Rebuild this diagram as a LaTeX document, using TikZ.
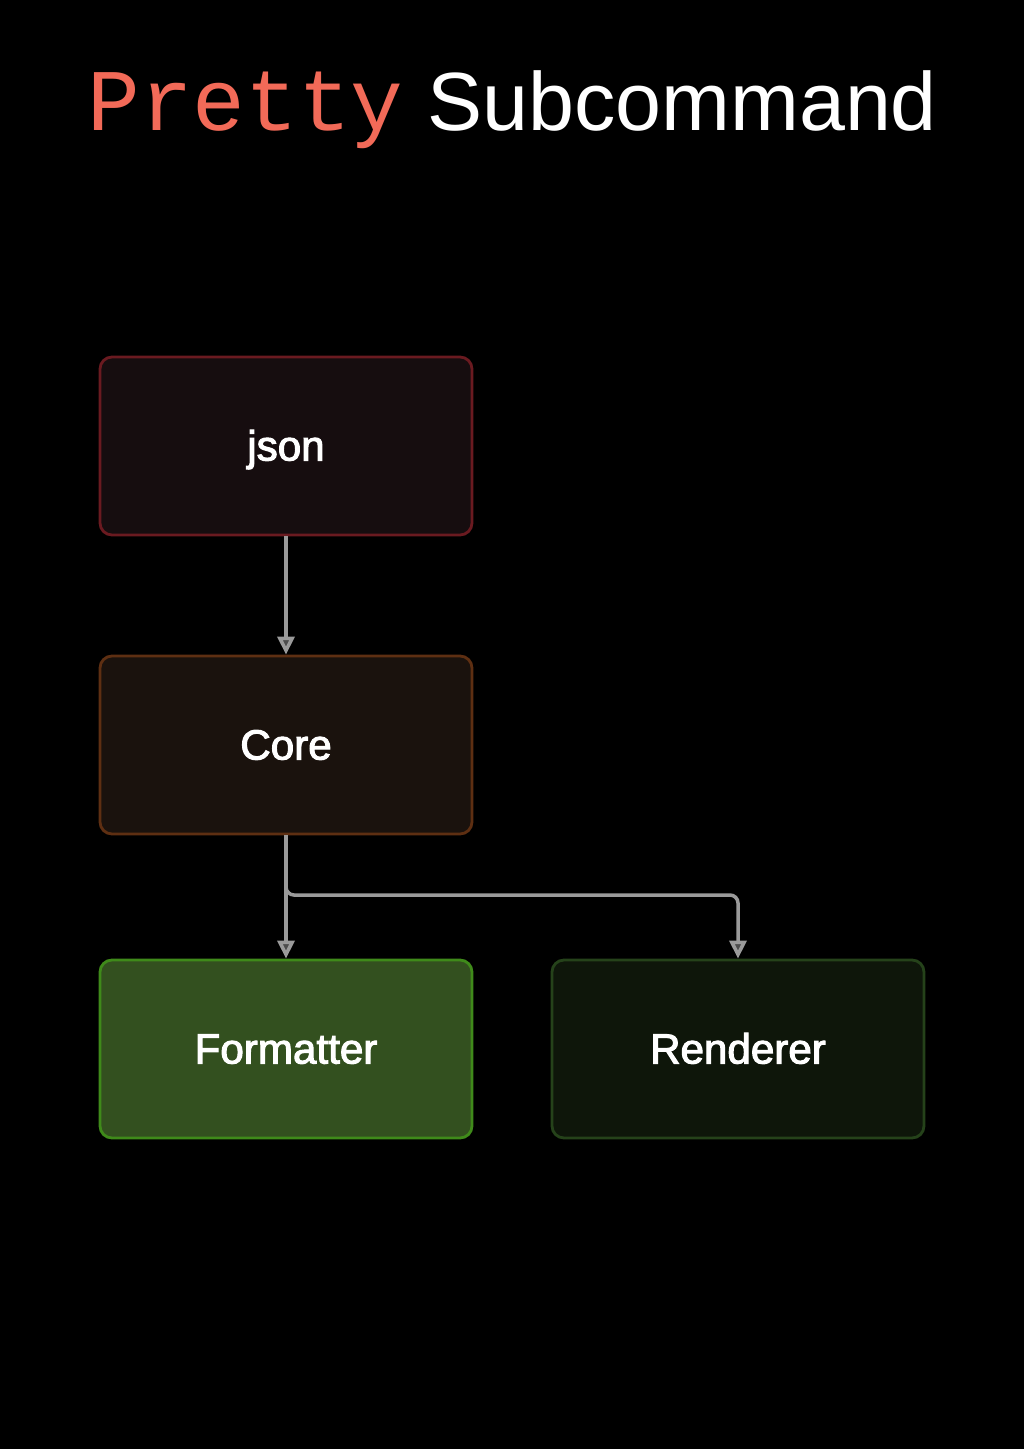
\documentclass[tikz,border=0pt]{standalone}
\usepackage{fontspec}
\setmainfont{Liberation Sans}
\setmonofont{Liberation Mono}
\newfontfamily\boxfont[FakeBold=2.5]{Liberation Sans}
\usetikzlibrary{arrows.meta}

\definecolor{titlered}{HTML}{F26A58}
\definecolor{edgegray}{HTML}{9A9A9A}
\definecolor{jsonfill}{HTML}{160D0F}
\definecolor{jsonline}{HTML}{6A1A20}
\definecolor{corefill}{HTML}{1A120D}
\definecolor{coreline}{HTML}{5E2F12}
\definecolor{fmtfill}{HTML}{33501F}
\definecolor{fmtline}{HTML}{3F8A1A}
\definecolor{rendfill}{HTML}{0E160A}
\definecolor{rendline}{HTML}{25421A}

\begin{document}
\begin{tikzpicture}[
        b/.style={rectangle, draw, rounded corners=0.24cm, line width=1.6pt, minimum width=7.44cm,
                  minimum height=3.56cm, align=center, text height=16.5pt, text depth=0pt,
                  font=\boxfont\fontsize{24}{28}\selectfont, text=white},
        e/.style={draw=edgegray, line width=2pt, rounded corners=0.16cm,
                  -{Triangle[length=0.36cm, width=0.34cm, fill=edgegray!50!black]}}
    ]
        \fill[black] (0,0) rectangle (20.48,-28.98);
        \useasboundingbox (0,0) rectangle (20.48,-28.98);

        \node[anchor=base west, inner sep=0, text=titlered, font=\ttfamily\fontsize{50}{60}\selectfont] (t1) at (1.74,-2.6) {Pretty};
        \node[anchor=base west, inner sep=0, text=white, font=\fontsize{47}{56}\selectfont] (t2) at (8.54,-2.6) {Subcommand};

        \node[b, fill=jsonfill, draw=jsonline] (json) at (5.72,-8.92)  {json};
        \node[b, fill=corefill, draw=coreline] (core) at (5.72,-14.9)  {Core};
        \node[b, fill=fmtfill, draw=fmtline]   (fmt)  at (5.72,-20.98) {Formatter};
        \node[b, fill=rendfill, draw=rendline] (rend) at (14.76,-20.98) {Renderer};

        \draw[e] (json) -- (core);
        \draw[e] (core) -- (fmt);
        \draw[e] (core.south) |- (10,-17.9) -| (rend.north);
    \end{tikzpicture}
\end{document}
